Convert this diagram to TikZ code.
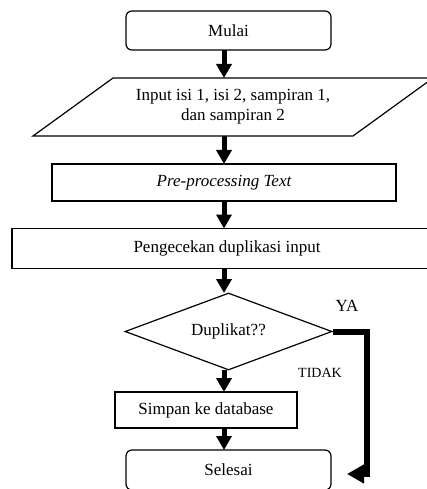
\documentclass[tikz,border=0pt]{standalone}
\usepackage{fontspec}
\setmainfont{Liberation Serif}
\usetikzlibrary{arrows.meta,shapes.geometric}
\begin{document}
\begin{tikzpicture}[x=1pt,y=-1pt,
  box/.style={draw,line width=1.2pt,inner sep=0pt,font=\fontsize{17}{20}\selectfont,align=center},
  term/.style={box,rounded corners=6pt},
  arr/.style={line width=5pt,-{Triangle[width=15pt,length=14pt]}},
  lbl/.style={inner sep=0pt}]
\useasboundingbox (0,0) rectangle (426,489);
\node[term,minimum width=205,minimum height=39] (mulai) at (228.5,30.5) {Mulai};
\node[lbl,font=\fontsize{17}{20}\selectfont,align=center,minimum height=58] (inp) at (233,107) {Input isi 1, isi 2, sampiran 1,\\ dan sampiran 2};
\draw[line width=1.2pt] (113,78) -- (433,78) -- (353,136) -- (33,136) -- cycle;
\node[box,minimum width=344,minimum height=37] (pre) at (224,182.5) {\itshape Pre-processing Text};
\node[box,minimum width=430,minimum height=40] (cek) at (227,248.5) {Pengecekan duplikasi input};
\node[box,diamond,aspect=2.7,minimum width=207,minimum height=77] (dup) at (228.5,331.5) {Duplikat??};
\node[box,minimum width=182,minimum height=36] (simpan) at (206,410) {Simpan ke database};
\node[term,minimum width=205,minimum height=40] (selesai) at (228.5,470) {Selesai};
\node[lbl,font=\fontsize{17}{20}\selectfont] (ya) at (347,306) {YA};
\node[lbl,font=\fontsize{14}{16}\selectfont] (tidak) at (320,373) {TIDAK};
\coordinate (yacorner) at (366.5,474);
\coordinate (yaend) at (347,474);
\draw[arr] (224,50) -- (224,78);
\draw[arr] (224,136) -- (224,164);
\draw[arr] (224,201) -- (224,228.5);
\draw[arr] (224,268.5) -- (224,293);
\draw[arr] (224,370) -- (224,392);
\draw[arr] (224,428) -- (224,450);
\draw[line width=6pt,-{Triangle[width=18pt,length=17pt]}] (dup.east) -| (yacorner) -- (yaend);
\end{tikzpicture}
\end{document}
